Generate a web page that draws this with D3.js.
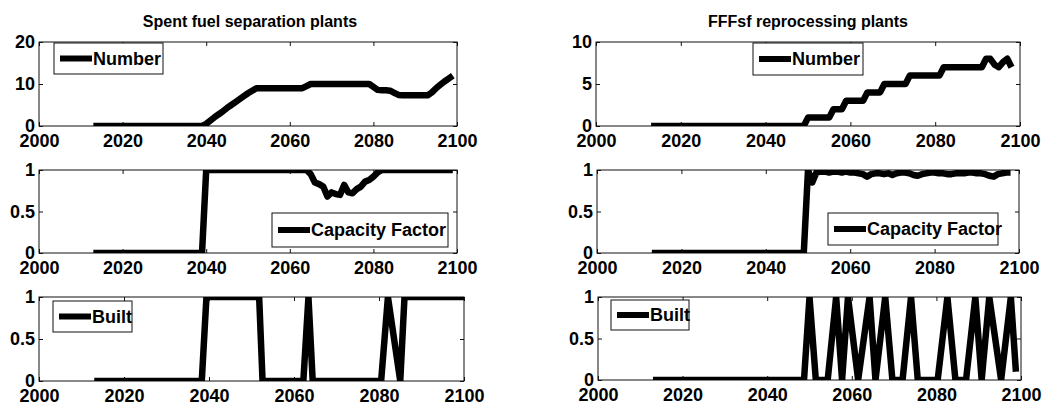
<!DOCTYPE html>
<html>
<head>
<meta charset="utf-8">
<script src="https://cdn.jsdelivr.net/npm/d3@7"></script>
<style>
  body { margin: 0; background: #fff; }
  svg text { font-family: "Liberation Sans", Arial, sans-serif; font-weight: bold; fill: #000; }
</style>
</head>
<body>
<svg id="chart" width="1055" height="411"></svg>
<script>
// yearly values
const leftStart = 2013;   // spent fuel separation, 2013..2099
const rightStart = 2013;  // FFFsf reprocessing, 2013..2098

const sepNumber = [
  0,0,0,0,0,0,0,0,0,0,0,0,0,0,0,0,0,0,0,0,0,0,0,0,0,0,0,
  0.5,1.3,2.1,2.8,3.5,4.3,5.0,5.7,6.4,7.1,7.8,8.4,9,9,
  9,9,9,9,9,9,9,9,9,9,
  9.5,10,
  10,10,10,10,10,10,10,10,10,10,10,10,10,10,
  9.3,8.6,8.5,8.5,8.4,7.9,7.4,7.3,
  7.3,7.3,7.3,7.3,7.3,7.3,
  8.0,9.0,9.8,10.6,11.3,12
];
const sepCapacity = [
  0,0,0,0,0,0,0,0,0,0,0,0,0,0,0,0,0,0,0,0,0,0,0,0,0,0,0,
  1,1,1,1,1,1,1,1,1,1,1,1,1,1,1,1,1,1,1,1,1,1,1,1,1,
  0.95,0.85,0.83,0.8,0.68,0.73,0.71,0.7,0.82,0.73,0.72,0.77,0.8,0.86,0.88,0.92,0.97,
  1,1,1,1,1,1,1,1,1,1,1,1,1,1,1,1,1,1
];
// built: corner points (year, value) as seen on the plot
const sepBuiltYears  = [2013, 2038.3, 2039.4, 2051.8, 2052.6, 2062.2, 2063.4, 2064.4, 2080.5, 2082.1, 2085, 2086, 2100];
const sepBuiltValues = [0,    0,      1,      1,      0,      0,      1,      0,      0,      1,      0,    1,    1];

const repNumber = [
  0,0,0,0,0,0,0,0,0,0,0,0,0,0,0,0,0,0,0,0,0,0,0,0,0,0,0,0,0,0,0,0,0,0,0,0,0,
  1,1,1,1,1,1,
  2,2,2,
  3,3,3,3,3,
  4,4,4,4,
  5,5,5,5,5,5,
  6,6,6,6,6,6,6,6,
  7,7,7,7,7,7,7,7,7,7,
  8,8,7.3,7,7.6,8,7
];
const repCapacity = [
  0,0,0,0,0,0,0,0,0,0,0,0,0,0,0,0,0,0,0,0,0,0,0,0,0,0,0,0,0,0,0,0,0,0,0,0,0,
  1,0.85,
  0.97,0.98,0.98,0.97,0.98,0.98,0.97,0.98,0.97,0.97,0.96,0.95,0.92,0.95,0.96,0.96,
  0.95,0.96,0.94,0.96,0.97,0.97,0.96,0.94,0.93,0.95,0.96,0.97,0.97,0.96,0.96,0.95,
  0.95,0.96,0.96,0.96,0.97,0.97,0.96,0.96,0.95,0.93,0.92,0.95,0.96,0.97,0.97
];
const repBuiltYears  = [2013, 2048.7, 2050, 2051.5, 2054.3, 2056.3, 2057.7, 2059.1, 2061.5, 2064.2, 2065.6, 2067.9,
                        2069.6, 2072, 2074, 2075.6, 2080.3, 2082.6, 2084.5, 2087, 2089.2, 2090.7, 2092.5, 2095.3,
                        2097.6, 2098.8];
const repBuiltValues = [0, 0, 1, 0, 0, 1, 0, 1, 0, 1, 0, 1,
                        0, 0, 1, 0, 0, 1, 0, 0, 1, 0, 1, 0,
                        1, 0.1];

const xTicks = [2000, 2020, 2040, 2060, 2080, 2100];
const titles = ["Spent fuel separation plants", "FFFsf reprocessing plants"];

const yearsFrom = (start, vals) => vals.map((v, k) => start + k);

const svg = d3.select("#chart");

// one entry per subplot (layout + which series)
const panels = [
  {x0: 39, x1: 457, y0: 42, y1: 126, dom: [0, 20], ticks: [0, 10, 20],
   xs: yearsFrom(leftStart, sepNumber), values: sepNumber, label: "Number", box: [54, 43, 109, 31]},
  {x0: 39, x1: 457, y0: 170, y1: 253, dom: [0, 1], ticks: [0, 0.5, 1],
   xs: yearsFrom(leftStart, sepCapacity), values: sepCapacity, label: "Capacity Factor", box: [272, 213, 176, 34]},
  {x0: 39, x1: 464, y0: 297, y1: 381, dom: [0, 1], ticks: [0, 0.5, 1],
   xs: sepBuiltYears, values: sepBuiltValues, label: "Built", box: [53, 301, 79, 31]},
  {x0: 596, x1: 1020, y0: 42, y1: 126, dom: [0, 10], ticks: [0, 5, 10],
   xs: yearsFrom(rightStart, repNumber), values: repNumber, label: "Number", box: [753, 43, 110, 32]},
  {x0: 597, x1: 1019, y0: 170, y1: 253, dom: [0, 1], ticks: [0, 0.5, 1],
   xs: yearsFrom(rightStart, repCapacity), values: repCapacity, label: "Capacity Factor", box: [828, 213, 170, 32]},
  {x0: 598, x1: 1021, y0: 297, y1: 380, dom: [0, 1], ticks: [0, 0.5, 1],
   xs: repBuiltYears, values: repBuiltValues, label: "Built", box: [611, 300, 78, 30]}
];

const fmt = d => (d === 0.5 ? "0.5" : d3.format("d")(d));

panels.forEach((p, i) => {
  const x = d3.scaleLinear().domain([2000, 2100]).range([p.x0, p.x1]);
  const y = d3.scaleLinear().domain(p.dom).range([p.y1, p.y0]);
  const g = svg.append("g");

  // frame
  g.append("rect")
    .attr("x", p.x0).attr("y", p.y0)
    .attr("width", p.x1 - p.x0).attr("height", p.y1 - p.y0)
    .attr("fill", "#fff").attr("stroke", "#111").attr("stroke-width", 1);

  // inward ticks on all four sides, labels only bottom/left
  const bottom = g.append("g").attr("transform", `translate(0,${p.y1})`)
    .call(d3.axisBottom(x).tickValues(xTicks).tickSizeInner(-4).tickSizeOuter(0).tickPadding(8).tickFormat(d3.format("d")));
  const top = g.append("g").attr("transform", `translate(0,${p.y0})`)
    .call(d3.axisTop(x).tickValues(xTicks).tickSizeInner(-4).tickSizeOuter(0).tickFormat(""));
  const left = g.append("g").attr("transform", `translate(${p.x0},0)`)
    .call(d3.axisLeft(y).tickValues(p.ticks).tickSizeInner(-4).tickSizeOuter(0).tickPadding(4).tickFormat(fmt));
  const right = g.append("g").attr("transform", `translate(${p.x1},0)`)
    .call(d3.axisRight(y).tickValues(p.ticks).tickSizeInner(-4).tickSizeOuter(0).tickFormat(""));
  [bottom, top, left, right].forEach(a => {
    a.select(".domain").remove();
    a.selectAll("line").attr("stroke", "#111");
    a.selectAll("text").style("font-size", "18px").attr("fill", "#000");
  });

  // data line, clipped to the axes box like matlab
  const clipId = "clip" + i;
  svg.append("clipPath").attr("id", clipId).append("rect")
    .attr("x", p.x0).attr("y", p.y0).attr("width", p.x1 - p.x0).attr("height", p.y1 - p.y0);
  const line = d3.line().x(d => x(d[0])).y(d => y(d[1]));
  g.append("path")
    .datum(d3.zip(p.xs, p.values))
    .attr("d", line)
    .attr("fill", "none")
    .attr("stroke", "#000")
    .attr("stroke-width", 6.5)
    .attr("stroke-linejoin", "round")
    .attr("clip-path", `url(#${clipId})`);

  // legend
  const [bx, by, bw, bh] = p.box;
  const lg = g.append("g");
  lg.append("rect").attr("x", bx).attr("y", by).attr("width", bw).attr("height", bh)
    .attr("fill", "#fff").attr("stroke", "#111").attr("stroke-width", 1);
  lg.append("line")
    .attr("x1", bx + 6).attr("x2", bx + 38)
    .attr("y1", by + bh / 2).attr("y2", by + bh / 2)
    .attr("stroke", "#000").attr("stroke-width", 6);
  lg.append("text")
    .attr("x", bx + 39).attr("y", by + bh / 2)
    .attr("dy", "0.36em")
    .style("font-size", "18px")
    .text(p.label);
});

// column titles
svg.selectAll(".title")
  .data(titles)
  .enter()
  .append("text")
  .attr("class", "title")
  .attr("x", (d, i) => i === 0 ? 250 : 808)
  .attr("y", 27)
  .attr("text-anchor", "middle")
  .style("font-size", "16px")
  .text(d => d);
</script>
</body>
</html>
